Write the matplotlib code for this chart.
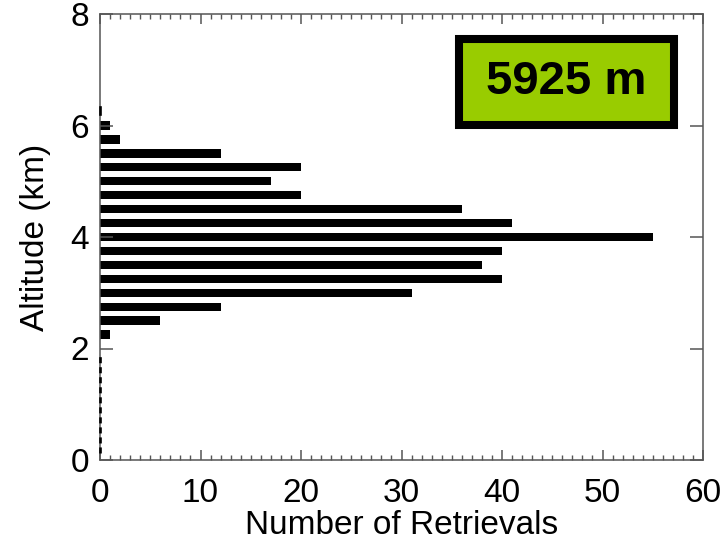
import matplotlib
matplotlib.use("Agg")
import matplotlib.pyplot as plt
from matplotlib.patches import Rectangle
import numpy as np

# histogram of retrieval altitudes (km) vs count
altitude = [2.25, 2.5, 2.75, 3.0, 3.25, 3.5, 3.75, 4.0,
            4.25, 4.5, 4.75, 5.0, 5.25, 5.5, 5.75, 6.0]
counts = [1, 6, 12, 31, 40, 38, 40, 55,
          41, 36, 20, 17, 20, 12, 2, 1]
label_text = "5925 m"
xticks = [0, 10, 20, 30, 40, 50, 60]
yticks = [0, 2, 4, 6, 8]

plt.rcParams['font.family'] = ['Liberation Sans', 'DejaVu Sans']

fig = plt.figure(figsize=(7.25, 5.45), dpi=100)
ax = fig.add_axes([100/725, 1 - 460/545, 603/725, 446/545])

ax.barh(altitude, counts, height=0.15, color='black', left=0)

# empty bins drawn at the axis
ax.plot([0, 0], [0.12, 1.86], color='black', lw=1.9, dashes=(2.3, 1.5), clip_on=False, zorder=5)
ax.plot([0, 0], [6.2, 6.33], color='black', lw=1.9, clip_on=False, zorder=5)

ax.set_xlim(0, 60)
ax.set_ylim(0, 8)
ax.set_xticks(xticks)
ax.set_yticks(yticks)
ax.set_xticks(np.arange(0, 61, 1), minor=True)
ax.tick_params(axis='both', which='major', direction='in', labelsize=24, color='#555555', width=1.1)
ax.tick_params(axis='x', which='major', length=7.2, top=True, pad=13)
ax.tick_params(axis='x', which='minor', direction='in', length=3.6, top=True, color='#555555', width=1.0)
ax.tick_params(axis='y', which='major', length=9.4, right=True, pad=8)
for s in ax.spines.values():
    s.set_color('#555555')
    s.set_linewidth(1.1)

ax.set_xlabel("Number of Retrievals", fontsize=24, labelpad=1)
ax.set_ylabel("Altitude (km)", fontsize=24, labelpad=14)

box = Rectangle((0.595, 0.752), 0.3566, 0.1917, transform=ax.transAxes,
                facecolor='#99cc00', edgecolor='black', linewidth=5.8, zorder=6)
ax.add_patch(box)
ax.text(0.595 + 0.3566/2, 0.752 + 0.1917/2, label_text, transform=ax.transAxes,
        ha='center', va='center', fontsize=34, fontweight='bold', zorder=7)

fig.savefig("out.png", dpi=100)
